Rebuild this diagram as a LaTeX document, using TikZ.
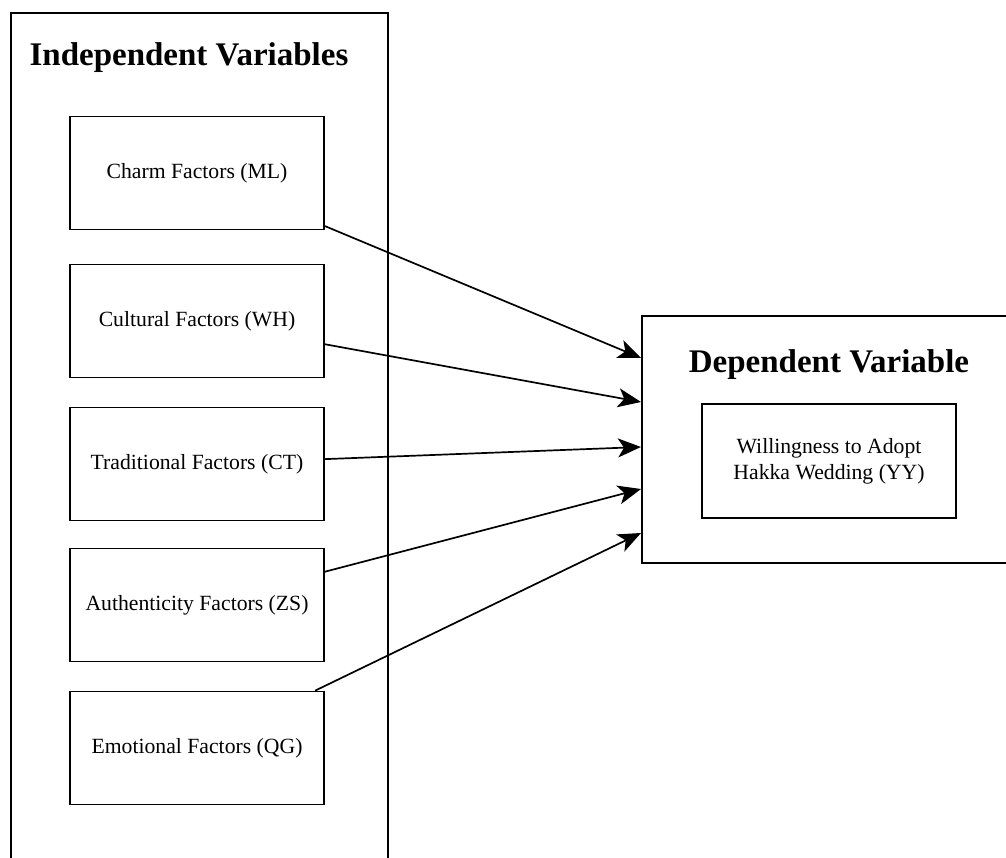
\documentclass[tikz,border=0pt]{standalone}
\usepackage{fontspec}
\setmainfont{Liberation Serif}
\usetikzlibrary{arrows.meta}
\begin{document}
\begin{tikzpicture}[x=1pt,y=-1pt,
  frame/.style={draw, line width=1.7pt, inner sep=0pt},
  factor/.style={frame, minimum width=254pt, minimum height=113pt, font=\fontsize{21.7}{26}\selectfont, align=center},
  titletext/.style={font=\bfseries\fontsize{33}{40}\selectfont, anchor=base, inner sep=0pt},
  arr/.style={-{Stealth[length=23pt,width=19pt,inset=6pt]}, line width=1.7pt}]
\path[use as bounding box, clip] (0,0) rectangle (1006,858);
% containers
\node[frame, minimum width=377pt, minimum height=880pt, anchor=north west] (ivbox) at (10,12) {};
\node[frame, minimum width=380pt, minimum height=247pt, anchor=north west] (dvbox) at (641,315) {};
% titles
\node[titletext] (ivtitle) at (189,66) {Independent Variables};
\node[titletext] (dvtitle) at (829,372) {Dependent Variable};
% factor boxes
\node[factor] (ml) at (197,173) {Charm Factors (ML)};
\node[factor] (wh) at (197,321) {Cultural Factors (WH)};
\node[factor] (ct) at (197,464) {Traditional Factors (CT)};
\node[factor] (zs) at (197,605) {Authenticity Factors (ZS)};
\node[factor] (qg) at (197,748) {Emotional Factors (QG)};
% dependent inner box
\node[factor, minimum width=254pt, minimum height=114pt] (yy) at (829,461) {Willingness to Adopt\\Hakka Wedding (YY)};
% arrow targets on the dependent box border
\coordinate (t1) at (641,358);
\coordinate (t2) at (641,402);
\coordinate (t3) at (641,447);
\coordinate (t4) at (641,489);
\coordinate (t5) at (641,533);
\draw[arr] (ml) -- (t1);
\draw[arr] (wh) -- (t2);
\draw[arr] (ct) -- (t3);
\draw[arr] (zs) -- (t4);
\draw[arr] (qg) -- (t5);
\end{tikzpicture}
\end{document}
